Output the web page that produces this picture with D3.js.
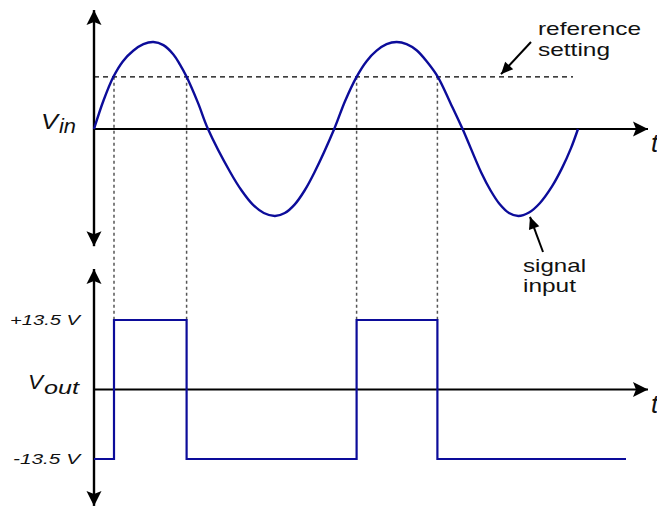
<!DOCTYPE html>
<html>
<head>
<meta charset="utf-8">
<script src="https://cdn.jsdelivr.net/npm/d3@7"></script>
<style>
  html, body { margin: 0; padding: 0; background: #fff; }
  svg { display: block; }
  text { font-family: "Liberation Sans", Arial, sans-serif; fill: #111; }
</style>
</head>
<body>
<script>
// ---------------- data ----------------
// input signal Vin (normalised amplitude) vs time (ms)
const vinTime  = [0, 0.48, 0.97, 1.45, 1.96, 2.47, 2.97, 3.47, 3.97, 4.3, 4.63, 5.2, 5.7,
                  6.82, 7.38, 7.93, 8.49, 9.05, 9.54, 10.04, 10.53, 11.02, 12.01,
                  12.55, 13.13, 13.63, 14.13, 14.63, 15.13, 15.63, 16.13, 16.66, 17.19, 17.82, 18.43,
                  19.36, 19.83, 20.29, 20.75, 21.22, 21.75, 22.3, 22.9, 23.4, 23.85, 24.2];
const vinValue = [0, 0.33, 0.6, 0.78, 0.9, 0.975, 1.0, 0.964, 0.857, 0.74, 0.6, 0.3, 0,
                  -0.5, -0.707, -0.866, -0.966, -1.0, -0.966, -0.866, -0.707, -0.5, 0,
                  0.32, 0.6, 0.78, 0.9, 0.975, 1.0, 0.976, 0.905, 0.77, 0.6, 0.3, 0,
                  -0.5, -0.707, -0.866, -0.966, -1.0, -0.96, -0.85, -0.66, -0.45, -0.22, 0];

// reference setting level and the crossing instants
const refLevel = 0.6;
const refStart = 0, refEnd = 23.95;
const crossTimes = [1.0, 4.63, 13.13, 17.17];

// comparator output Vout (V)
const voutTime  = [0, 1.0, 4.63, 13.13, 17.17, 26.6];
const voutValue = [-13.5, 13.5, -13.5, 13.5, -13.5, -13.5];
const voutTickValues = [13.5, -13.5];
const voutTickLabels = ["+13.5 V", "-13.5 V"];

// axis extents (data units)
const timeAxisEnd = 27.8;
const vinAxisExtent = [-1.37, 1.39];
const voutAxisExtent = [-23.0, 23.8];

// annotations (data units)
const refNote   = { lines: ["reference", "setting"], t: 22.2, v: [1.08, 0.84], widths: [103, 72], arrowFrom: [21.85, 1.0], arrowTo: [20.35, 0.63] };
const signalNote = { lines: ["signal", "input"], t: 21.45, v: [-1.644, -1.874], widths: [63, 53], arrowFrom: [22.45, -1.414], arrowTo: [21.8, -1.01] };

// ---------------- chart ----------------
const W = 657, H = 510;
const BLUE = "#0c0c9a";

const svg = d3.select("body").append("svg").attr("width", W).attr("height", H);

const x = d3.scaleLinear().domain([0, 24.2]).range([94, 578]);
const yIn = d3.scaleLinear().domain([-1, 1]).range([216, 42]);
const yOut = d3.scaleLinear().domain([-13.5, 13.5]).range([459, 320]);

const defs = svg.append("defs");
defs.append("marker").attr("id", "axhead")
  .attr("viewBox", "-16 -8 17 16").attr("refX", 0).attr("refY", 0)
  .attr("markerWidth", 17).attr("markerHeight", 16).attr("markerUnits", "userSpaceOnUse")
  .attr("orient", "auto-start-reverse")
  .append("path").attr("d", "M0,0 L-15,-7.5 L-12,0 L-15,7.5 Z").attr("fill", "#000");
defs.append("marker").attr("id", "notehead")
  .attr("viewBox", "-13 -6 14 12").attr("refX", 0).attr("refY", 0)
  .attr("markerWidth", 14).attr("markerHeight", 12).attr("markerUnits", "userSpaceOnUse")
  .attr("orient", "auto")
  .append("path").attr("d", "M0,0 L-12,-5.5 L-12,5.5 Z").attr("fill", "#000");

// dotted verticals from Vin crossings down to Vout high level
svg.append("g").selectAll("line").data(crossTimes).join("line")
  .attr("x1", d => x(d)).attr("x2", d => x(d))
  .attr("y1", yIn(refLevel)).attr("y2", yOut(13.5))
  .attr("stroke", "#555").attr("stroke-width", 1.5).attr("stroke-dasharray", "3,3");

// reference dashed line
svg.append("line")
  .attr("x1", x(refStart)).attr("x2", x(refEnd))
  .attr("y1", yIn(refLevel)).attr("y2", yIn(refLevel))
  .attr("stroke", "#000").attr("stroke-width", 1.2).attr("stroke-dasharray", "5,4");

// axes
function axisLines(yScale, extent) {
  const g = svg.append("g");
  g.append("line")
    .attr("x1", x(0)).attr("x2", x(timeAxisEnd) - 2)
    .attr("y1", yScale(0)).attr("y2", yScale(0))
    .attr("stroke", "#000").attr("stroke-width", 2.2)
    .attr("marker-end", "url(#axhead)");
  g.append("line")
    .attr("x1", x(0)).attr("x2", x(0))
    .attr("y1", yScale(extent[0]) - 2).attr("y2", yScale(extent[1]) + 2)
    .attr("stroke", "#000").attr("stroke-width", 2.4)
    .attr("marker-start", "url(#axhead)").attr("marker-end", "url(#axhead)");
  return g;
}
axisLines(yIn, vinAxisExtent);
axisLines(yOut, voutAxisExtent);

// Vin curve
const vinData = vinTime.map((t, i) => [t, vinValue[i]]);
svg.append("path").datum(vinData)
  .attr("fill", "none").attr("stroke", BLUE).attr("stroke-width", 2.4)
  .attr("stroke-linejoin", "round")
  .attr("d", d3.line().x(d => x(d[0])).y(d => yIn(d[1])).curve(d3.curveCatmullRom.alpha(0.5)));

// Vout square wave
const voutData = voutTime.map((t, i) => [t, voutValue[i]]);
svg.append("path").datum(voutData)
  .attr("fill", "none").attr("stroke", BLUE).attr("stroke-width", 2.2)
  .attr("d", d3.line().x(d => x(d[0])).y(d => yOut(d[1])).curve(d3.curveStepAfter));

// Vout level labels
svg.append("g").selectAll("text").data(voutTickValues).join("text")
  .attr("x", x(0) - 14).attr("y", d => yOut(d) + 5)
  .attr("text-anchor", "end")
  .attr("font-size", 14).attr("font-style", "italic")
  .attr("textLength", (d, i) => i === 0 ? 70 : 67).attr("lengthAdjust", "spacingAndGlyphs")
  .text((d, i) => voutTickLabels[i]);

// axis titles
svg.append("text").attr("x", x(0) - 53).attr("y", yIn(0))
  .attr("font-size", 22).attr("font-style", "italic")
  .attr("textLength", 17).attr("lengthAdjust", "spacingAndGlyphs").text("V");
svg.append("text").attr("x", x(0) - 35).attr("y", yIn(0) + 4)
  .attr("font-size", 21).attr("font-style", "italic")
  .attr("textLength", 17).attr("lengthAdjust", "spacingAndGlyphs").text("in");
svg.append("text").attr("x", 28).attr("y", yOut(0) - 1)
  .attr("font-size", 21).attr("font-style", "italic")
  .attr("textLength", 15).attr("lengthAdjust", "spacingAndGlyphs").text("V");
svg.append("text").attr("x", 44).attr("y", yOut(0) + 4)
  .attr("font-size", 19).attr("font-style", "italic")
  .attr("textLength", 35).attr("lengthAdjust", "spacingAndGlyphs").text("out");

// "t" labels at the time axis ends
[yIn, yOut].forEach(ys => {
  svg.append("text").attr("x", x(timeAxisEnd) + 1).attr("y", ys(0) + 23)
    .attr("font-size", 26).attr("font-style", "italic").text("t");
});

// annotations
[refNote, signalNote].forEach(n => {
  n.lines.forEach((s, i) => {
    svg.append("text").attr("x", x(n.t)).attr("y", yIn(n.v[i]))
      .attr("font-size", 19)
      .attr("textLength", n.widths[i]).attr("lengthAdjust", "spacingAndGlyphs")
      .text(s);
  });
  svg.append("line")
    .attr("x1", x(n.arrowFrom[0])).attr("y1", yIn(n.arrowFrom[1]))
    .attr("x2", x(n.arrowTo[0])).attr("y2", yIn(n.arrowTo[1]))
    .attr("stroke", "#000").attr("stroke-width", 2)
    .attr("marker-end", "url(#notehead)");
});
</script>
</body>
</html>
